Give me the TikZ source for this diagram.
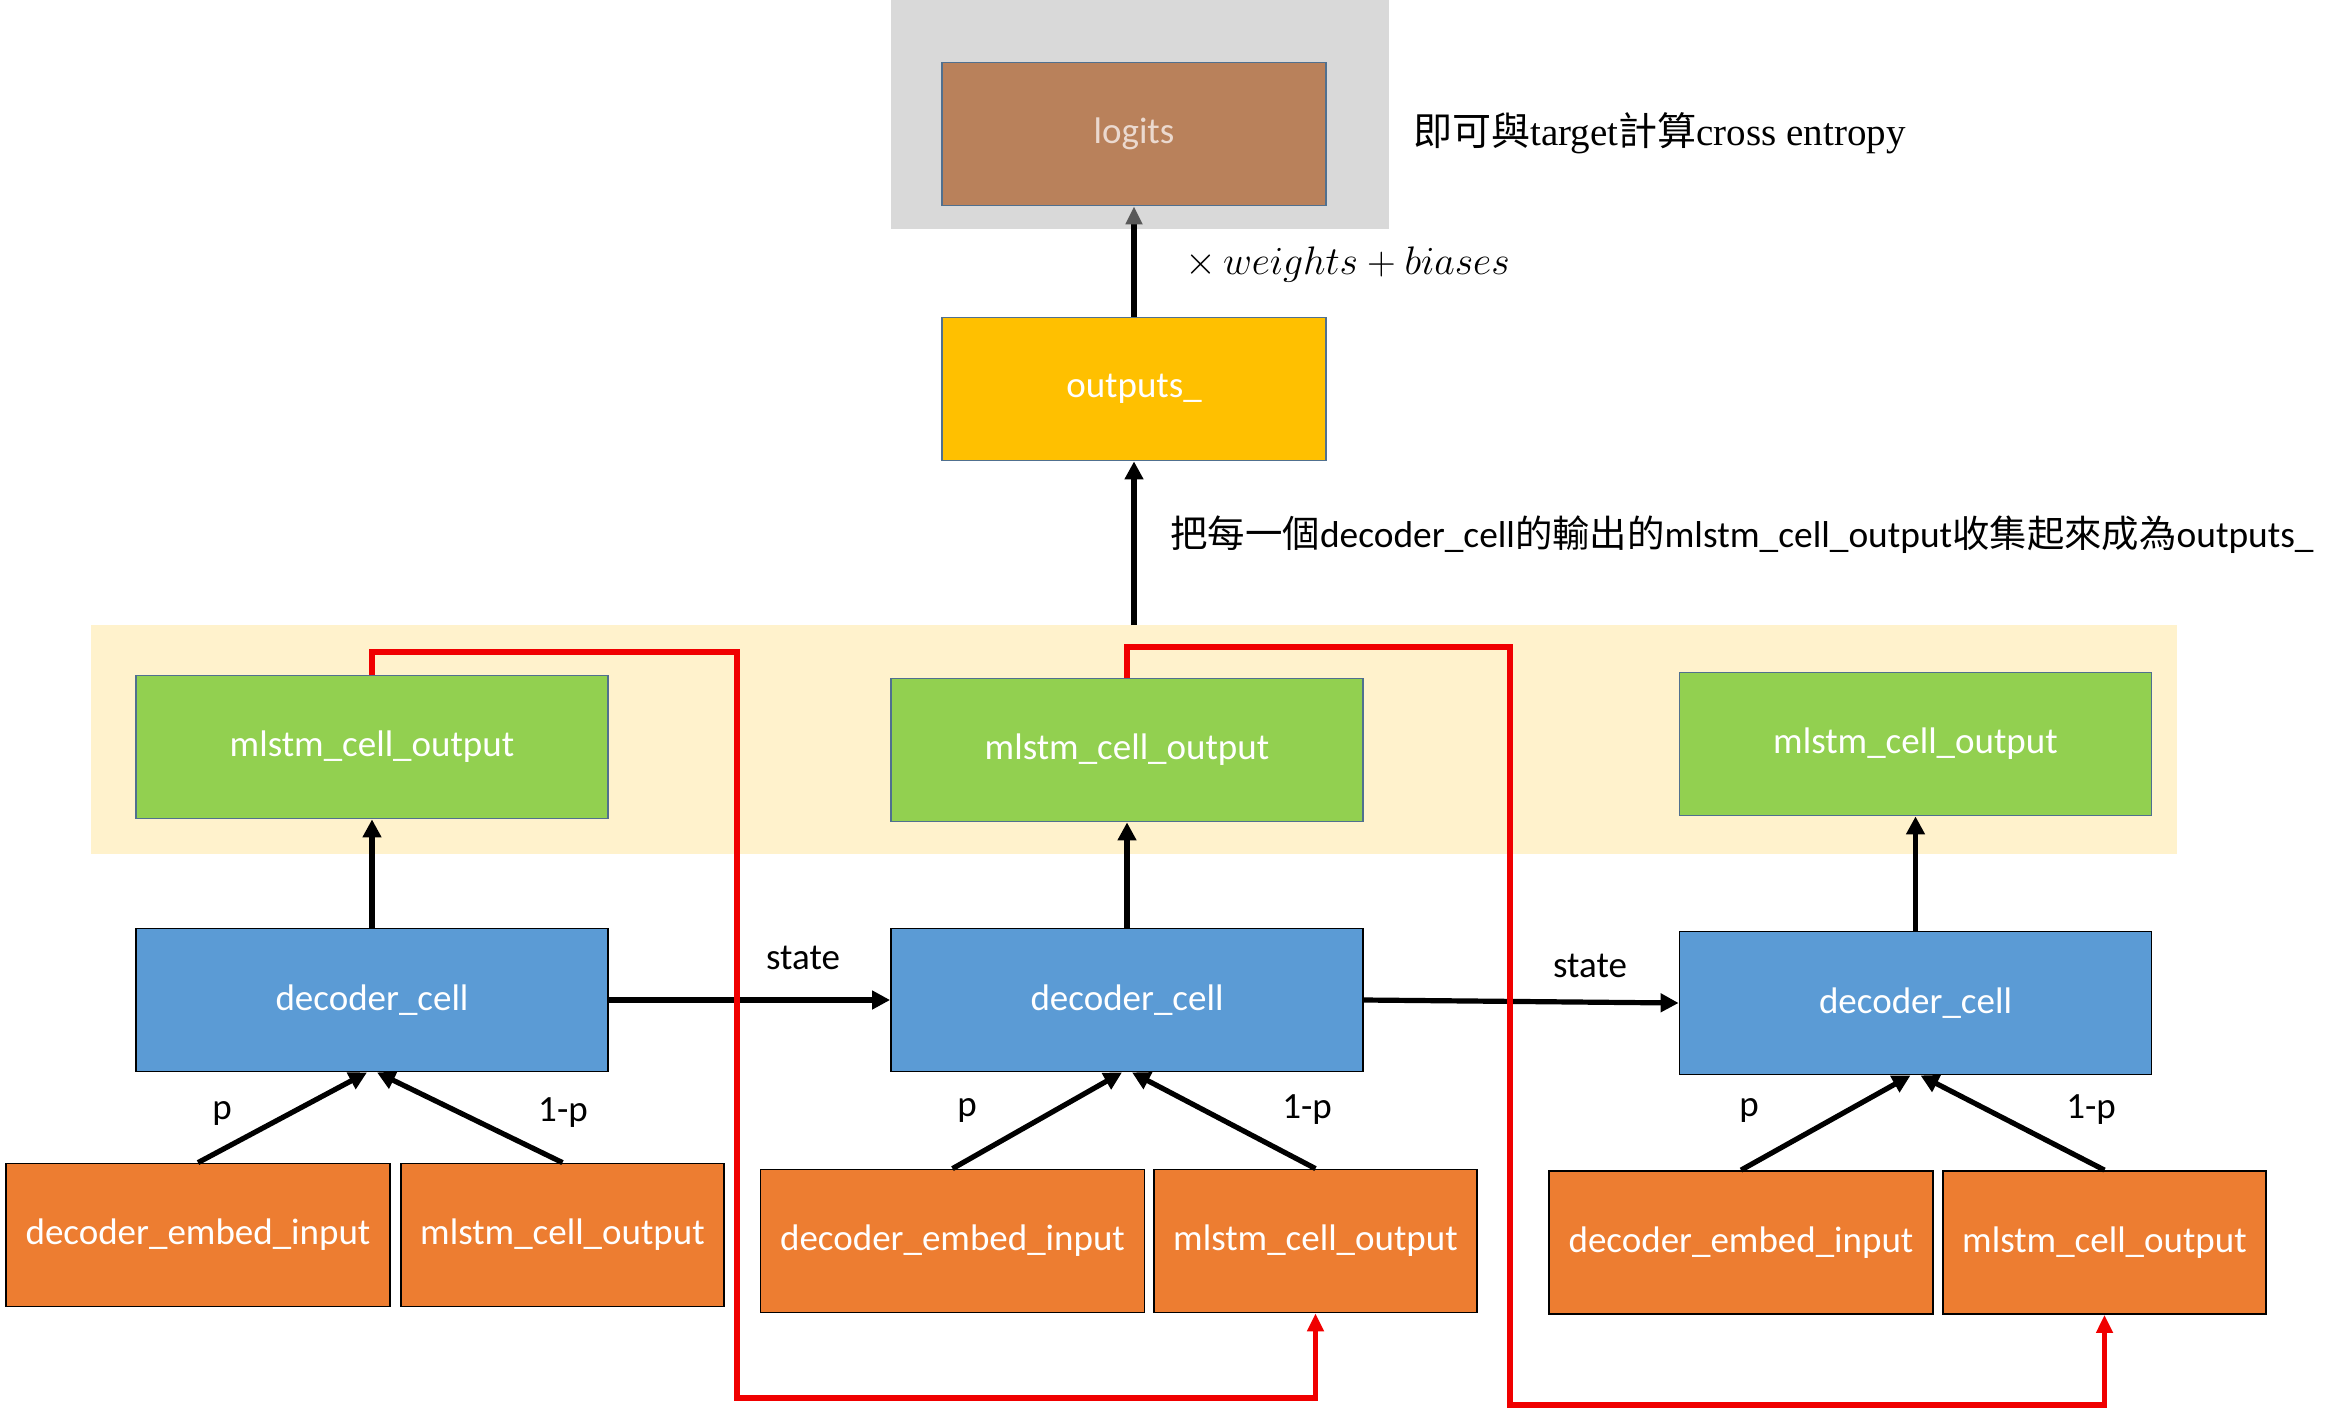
\RequirePackage{fix-cm}
\documentclass[tikz,border=0pt]{standalone}
\usepackage{fontspec}
\setmainfont{Carlito}
\newfontfamily\cjk{Noto Sans CJK TC}
\newfontfamily\serifl{Liberation Serif}
\usetikzlibrary{arrows.meta,calc}
\definecolor{bggray}{HTML}{D9D9D9}
\definecolor{logitfill}{HTML}{B9815B}
\definecolor{logittext}{HTML}{EBD9CF}
\definecolor{slateborder}{HTML}{50708F}
\definecolor{gold}{HTML}{FFC000}
\definecolor{band}{HTML}{FFF2CC}
\definecolor{leaf}{HTML}{92D050}
\definecolor{sky}{HTML}{5B9BD5}
\definecolor{tangerine}{HTML}{ED7D31}
\definecolor{darkgray}{HTML}{595959}
\definecolor{redline}{HTML}{F00000}
\tikzset{
  x=0.5pt, y=-0.5pt,
  boxtxt/.style={font=\fontsize{18.5}{20}\selectfont},
  cellbox/.style={draw, line width=0.9pt, boxtxt, text=white, inner sep=0pt, minimum height=71.5pt},
  widebox/.style={cellbox, minimum width=236pt},
  logitbox/.style={cellbox, minimum width=192pt},
  inbox/.style={cellbox, minimum width=192pt},
  outbox/.style={cellbox, minimum width=161.5pt},
  arr/.style={line width=2.6pt, -{Triangle[length=9pt,width=9pt]}},
  grayarr/.style={line width=2.6pt, -{Triangle[length=9pt,width=8pt,color=darkgray]}},
  redarr/.style={line width=2.6pt, redline, -{Triangle[length=9pt,width=8pt]}},
  lbl/.style={boxtxt, inner sep=0pt}
}
\begin{document}
\begin{tikzpicture}
\useasboundingbox (0,0) rectangle (2344,1408);
% backgrounds
\fill[bggray] (891,0) rectangle (1389,229);
\fill[band] (91,625) rectangle (2177,854);
% top boxes
\node[logitbox, fill=logitfill, draw=slateborder, text=logittext] (logits) at (1134,134) {logits};
\node[logitbox, fill=gold, draw=slateborder] (outputs) at (1134,389) {outputs\_};
% green boxes
\node[widebox, fill=leaf, draw=slateborder] (g1) at (372,747) {mlstm\_cell\_output};
\node[widebox, fill=leaf, draw=slateborder] (g2) at (1127,750) {mlstm\_cell\_output};
\node[widebox, fill=leaf, draw=slateborder] (g3) at (1915.5,744) {mlstm\_cell\_output};
% decoder cells
\node[widebox, fill=sky] (d1) at (372,1000) {decoder\_cell};
\node[widebox, fill=sky] (d2) at (1127,1000) {decoder\_cell};
\node[widebox, fill=sky] (d3) at (1915.5,1003) {decoder\_cell};
% inputs
\node[inbox, fill=tangerine] (e1) at (198,1235) {decoder\_embed\_input};
\node[outbox, fill=tangerine] (m1) at (562.5,1235) {mlstm\_cell\_output};
\node[inbox, fill=tangerine] (e2) at (952.5,1241) {decoder\_embed\_input};
\node[outbox, fill=tangerine] (m2) at (1315.5,1241) {mlstm\_cell\_output};
\node[inbox, fill=tangerine] (e3) at (1741,1242.5) {decoder\_embed\_input};
\node[outbox, fill=tangerine] (m3) at (2104.5,1242.5) {mlstm\_cell\_output};
% texts
\node[anchor=west, inner sep=0pt, font=\fontsize{19.5}{22}\selectfont] (t1) at (1413,133) {{\cjk 即可與}\serifl target{\cjk 計算}cross entropy};
\node[anchor=west, inner sep=0pt, font=\fontsize{19.9}{22}\selectfont] (t2) at (1185,265) {$\times\, weights + biases$};
\node[anchor=west, inner sep=0pt, font=\fontsize{18.7}{20}\selectfont] (t3) at (1170,535) {{\cjk 把每一個}decoder\_cell{\cjk 的輸出的}mlstm\_cell\_output{\cjk 收集起來成為}outputs\_};
\node[lbl] (s1) at (803,958) {state};
\node[lbl] (s2) at (1590,966) {state};
\node[lbl] (p1) at (222,1113) {p};
\node[lbl] (q1) at (563,1113) {1-p};
\node[lbl] (p2) at (967,1110) {p};
\node[lbl] (q2) at (1307,1110) {1-p};
\node[lbl] (p3) at (1749,1110) {p};
\node[lbl] (q3) at (2091,1110) {1-p};
% connectors
\draw[grayarr] (outputs.north) -- (logits.south);
\coordinate (bandtop) at (1134,625);
\draw[arr] (bandtop) -- (outputs.south);
\draw[arr] (d1.north) -- (g1.south);
\draw[arr] (d2.north) -- (g2.south);
\draw[arr] (d3.north) -- (g3.south);
\draw[arr] (d1.east) -- (d2.west);
\draw[arr] (d2.east) -- (d3.west);
\draw[arr] (e1.north) -- ($(d1.south)+(-5,0)$);
\draw[arr] (m1.north) -- ($(d1.south)+(5,0)$);
\draw[arr] (e2.north) -- ($(d2.south)+(-5,0)$);
\draw[arr] (m2.north) -- ($(d2.south)+(5,0)$);
\draw[arr] (e3.north) -- ($(d3.south)+(-5,0)$);
\draw[arr] (m3.north) -- ($(d3.south)+(5,0)$);
% red feedback
\coordinate (r1a) at (737,652);
\coordinate (r1b) at (737,1398);
\coordinate (r2a) at (1510,647);
\coordinate (r2b) at (1510,1405);
\draw[redarr] (g1.north) |- (r1a) -- (r1b) -| (m2.south);
\draw[redarr] (g2.north) |- (r2a) -- (r2b) -| (m3.south);
\end{tikzpicture}
\end{document}
